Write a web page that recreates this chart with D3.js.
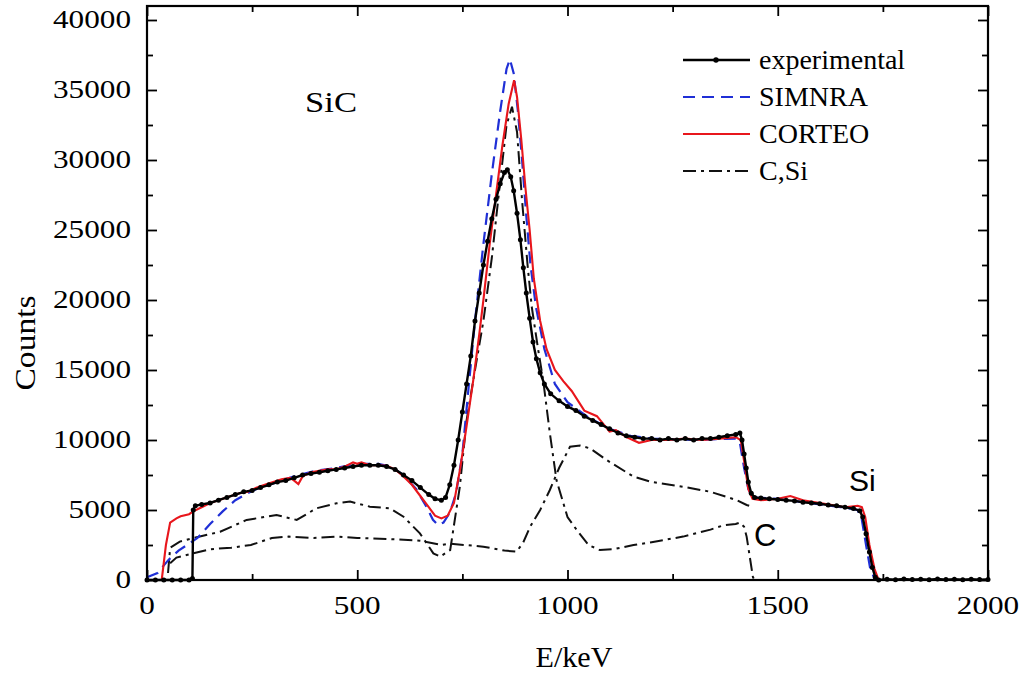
<!DOCTYPE html>
<html><head><meta charset="utf-8">
<script src="https://cdn.jsdelivr.net/npm/d3@7"></script>
<style>body{margin:0;background:#fff}svg{display:block}</style>
</head><body><svg id="c" width="1024" height="680"></svg>
<script>
// ---- data: [E (keV), counts] ----
const experimental = [[0,0],[20,0],[40,0],[60,0],[80,0],[100,0],[108,100],[110,5000],[115,5300],[130,5400],[150,5500],[170,5700],[190,5900],[210,6100],[230,6300],[250,6400],[270,6600],[290,6800],[310,7000],[330,7100],[350,7300],[370,7500],[390,7600],[410,7700],[430,7800],[450,7900],[470,8000],[490,8100],[510,8200],[530,8200],[550,8200],[570,8100],[590,7900],[610,7500],[630,7100],[650,6600],[670,6100],[685,5800],[700,5700],[710,5900],[720,6800],[730,8200],[740,10000],[750,12000],[760,14000],[770,16000],[780,18500],[790,20500],[800,22500],[810,24200],[820,25800],[830,27200],[840,28300],[850,29100],[857,29300],[865,28800],[872,27800],[880,26200],[888,24300],[895,22300],[902,20500],[910,18700],[918,17000],[926,15800],[935,14800],[945,14000],[960,13300],[980,12800],[1000,12400],[1020,12100],[1040,11700],[1060,11400],[1080,11100],[1100,10800],[1120,10500],[1140,10300],[1160,10200],[1180,10100],[1200,10100],[1220,10000],[1240,10100],[1260,10000],[1280,10100],[1300,10000],[1320,10100],[1340,10100],[1360,10200],[1380,10300],[1400,10400],[1410,10500],[1415,10000],[1420,9000],[1425,8000],[1430,7000],[1437,6200],[1445,5900],[1460,5850],[1480,5800],[1500,5750],[1520,5700],[1540,5650],[1560,5550],[1580,5500],[1600,5450],[1620,5350],[1640,5300],[1660,5200],[1680,5100],[1695,4950],[1702,4500],[1710,3300],[1718,2000],[1725,900],[1732,200],[1740,0],[1760,60],[1780,20],[1800,80],[1820,30],[1840,60],[1860,20],[1880,70],[1900,30],[1920,50],[1940,20],[1960,60],[1980,30],[2000,40]];
const simnra = [[0,200],[25,500],[50,1400],[75,2100],[100,2600],[120,3000],[150,4000],[180,4900],[210,5700],[240,6200],[260,6500],[300,6900],[350,7400],[400,7800],[450,8000],[500,8300],[550,8300],[580,8100],[610,7500],[640,6500],[665,5200],[680,4300],[692,3930],[705,4100],[720,4800],[735,6200],[750,9000],[764,13500],[780,18500],[800,24000],[820,29000],[840,33500],[855,36500],[863,37200],[872,36200],[882,33500],[892,30000],[902,26000],[912,22500],[925,19500],[945,16500],[970,14000],[1000,12700],[1050,11600],[1100,10800],[1150,10300],[1200,10100],[1300,10000],[1400,10100],[1410,9800],[1420,8000],[1430,6500],[1440,5900],[1500,5800],[1600,5400],[1650,5200],[1690,5000],[1700,4300],[1710,2500],[1720,800],[1730,100],[1740,0]];
const corteo = [[0,0],[35,0],[45,2500],[55,4100],[70,4400],[80,4550],[100,4700],[110,4900],[130,5200],[150,5500],[170,5700],[200,6000],[220,6200],[240,6300],[260,6600],[280,6800],[300,7000],[320,7200],[340,7300],[350,7100],[360,6850],[370,7400],[390,7700],[410,7800],[430,7900],[450,7900],[470,8100],[490,8400],[500,8300],[510,8400],[530,8200],[550,8200],[570,8150],[590,7900],[610,7400],[630,6800],[650,6000],[670,5200],[685,4600],[700,4400],[715,4600],[730,5500],[745,8000],[760,11000],[776,14300],[790,17500],[800,20000],[815,24000],[830,27500],[845,31000],[860,34000],[873,35700],[880,34500],[890,31500],[900,28000],[910,25000],[920,21500],[935,18500],[950,16500],[970,15000],[990,14200],[1010,13500],[1040,12100],[1070,11700],[1100,10600],[1115,10700],[1140,10200],[1170,9800],[1200,10000],[1240,10000],[1280,10100],[1320,10000],[1360,10100],[1400,10200],[1412,10000],[1420,8500],[1430,6500],[1440,5800],[1460,5700],[1500,5800],[1530,6000],[1560,5700],[1600,5500],[1640,5300],[1660,5200],[1690,5300],[1700,5200],[1708,4500],[1718,2500],[1730,800],[1740,0]];
const carbon = [[50,500],[55,2300],[78,2740],[110,3000],[174,3450],[237,4290],[308,4640],[356,4290],[403,5120],[451,5480],[483,5600],[530,5240],[578,5120],[610,4520],[649,3330],[681,1900],[697,1670],[721,2140],[744,6670],[760,11400],[780,15000],[800,18500],[820,23000],[840,28500],[855,32500],[868,33800],[880,32000],[892,27100],[905,22500],[915,19500],[930,16500],[942,14300],[958,10500],[974,7100],[1000,4500],[1022,3570],[1050,2500],[1077,2140],[1110,2200],[1157,2500],[1200,2700],[1275,3100],[1340,3600],[1370,3900],[1400,4000],[1410,4100],[1420,3800],[1426,3100],[1441,200],[1445,0]];
const silicon = [[55,1200],[70,1600],[110,1900],[150,2200],[200,2300],[247,2500],[297,3000],[337,3100],[397,3000],[450,3100],[500,3000],[600,2900],[650,2800],[700,2500],[720,2600],[800,2380],[850,2100],[879,2020],[895,2700],[911,3800],[935,5000],[958,6430],[980,8000],[1006,9520],[1030,9600],[1054,9400],[1093,8570],[1157,7380],[1200,7000],[1275,6660],[1340,6300],[1402,5710],[1426,5360],[1432,5300]];
const legendLabels = ["experimental","SIMNRA","CORTEO","C,Si"];
const xTicks = [0,500,1000,1500,2000];
const yTicks = [0,5000,10000,15000,20000,25000,30000,35000,40000];

const svg = d3.select("#c");
const x = d3.scaleLinear([0,2000],[147,988]);
const y = d3.scaleLinear([0,41000],[580,6]);
const serif = "'Liberation Serif','Times New Roman',serif";
const sans = "'Liberation Sans',Arial,sans-serif";

const line = d3.line().x(d=>x(d[0])).y(d=>y(d[1]));
const plot = svg.append("g");
const dashdot = "13,5,3,5";
plot.append("path").datum(carbon).attr("d",line).attr("fill","none").attr("stroke","#111").attr("stroke-width",2).attr("stroke-dasharray",dashdot);
plot.append("path").datum(silicon).attr("d",line).attr("fill","none").attr("stroke","#111").attr("stroke-width",2).attr("stroke-dasharray",dashdot);
plot.append("path").datum(simnra).attr("d",line).attr("fill","none").attr("stroke","#1f2fd6").attr("stroke-width",2.2).attr("stroke-dasharray","12,7");
plot.append("path").datum(corteo).attr("d",line).attr("fill","none").attr("stroke","#e8161c").attr("stroke-width",2.1);
plot.append("path").datum(experimental).attr("d",line).attr("fill","none").attr("stroke","#000").attr("stroke-width",2.4);
plot.selectAll("circle.e").data(experimental).join("circle").attr("class","e")
  .attr("cx",d=>x(d[0])).attr("cy",d=>y(d[1])).attr("r",2.5).attr("fill","#000");

// axes (ticks inward on all four sides)
const minorX = d3.range(0,2001,250), minorY = d3.range(0,41000,2500);
function tickLen(v,step){return v%step===0?10:6;}
const ax = svg.append("g");
const gB = ax.append("g").attr("transform","translate(0,580)").call(d3.axisTop(x).tickValues(minorX).tickSize(0).tickFormat(""));
gB.selectAll(".tick").append("line").attr("y2",d=>-tickLen(d,500)).attr("stroke","#000").attr("stroke-width",1.8);
const gT = ax.append("g").attr("transform","translate(0,6)").call(d3.axisBottom(x).tickValues(minorX).tickSize(0).tickFormat(""));
gT.selectAll(".tick").append("line").attr("y2",d=>tickLen(d,500)).attr("stroke","#000").attr("stroke-width",1.8);
const gL = ax.append("g").attr("transform","translate(147,0)").call(d3.axisRight(y).tickValues(minorY).tickSize(0).tickFormat(""));
gL.selectAll(".tick").append("line").attr("x2",d=>tickLen(d,5000)).attr("stroke","#000").attr("stroke-width",1.8);
const gR = ax.append("g").attr("transform","translate(988,0)").call(d3.axisLeft(y).tickValues(minorY).tickSize(0).tickFormat(""));
gR.selectAll(".tick").append("line").attr("x2",d=>-tickLen(d,5000)).attr("stroke","#000").attr("stroke-width",1.8);
ax.selectAll(".domain").remove();
svg.append("rect").attr("x",147).attr("y",6).attr("width",988-147).attr("height",574)
  .attr("fill","none").attr("stroke","#000").attr("stroke-width",2.2);

// tick labels
svg.append("g").selectAll("text").data(yTicks).join("text")
  .attr("x",131).attr("y",d=>y(d)+8).attr("text-anchor","end")
  .attr("font-family",serif).attr("font-size",25)
  .attr("textLength",d=>String(d).length*15.6).attr("lengthAdjust","spacingAndGlyphs")
  .text(d=>d);
svg.append("g").selectAll("text").data(xTicks).join("text")
  .attr("x",d=>x(d)).attr("y",614).attr("text-anchor","middle")
  .attr("font-family",serif).attr("font-size",25)
  .attr("textLength",d=>String(d).length*15.6).attr("lengthAdjust","spacingAndGlyphs")
  .text(d=>d);

// axis titles
svg.append("text").attr("transform","translate(35,343) rotate(-90)").attr("text-anchor","middle")
  .attr("font-family",serif).attr("font-size",30).attr("textLength",95).attr("lengthAdjust","spacingAndGlyphs").text("Counts");
svg.append("text").attr("x",574).attr("y",667).attr("text-anchor","middle")
  .attr("font-family",serif).attr("font-size",29).attr("textLength",77).attr("lengthAdjust","spacingAndGlyphs").text("E/keV");

// annotations
svg.append("text").attr("x",305).attr("y",112).attr("font-family",serif).attr("font-size",29)
  .attr("textLength",52).attr("lengthAdjust","spacingAndGlyphs").text("SiC");
svg.append("text").attr("x",849).attr("y",491).attr("font-family",sans).attr("font-size",30).text("Si");
svg.append("text").attr("x",754).attr("y",546).attr("font-family",sans).attr("font-size",31).text("C");

// legend
const lg = svg.append("g");
const styles = [
  {stroke:"#000",dash:null,w:2.4,dot:true},
  {stroke:"#1f2fd6",dash:"12,7",w:2.2,dot:false},
  {stroke:"#e8161c",dash:null,w:2.1,dot:false},
  {stroke:"#111",dash:dashdot,w:2,dot:false}];
legendLabels.forEach((t,i)=>{
  const yy = 60 + i*37;
  const s = styles[i];
  lg.append("line").attr("x1",683).attr("x2",750).attr("y1",yy).attr("y2",yy)
    .attr("stroke",s.stroke).attr("stroke-width",s.w).attr("stroke-dasharray",s.dash);
  if(s.dot) lg.append("circle").attr("cx",716).attr("cy",yy).attr("r",2.7).attr("fill","#000");
  lg.append("text").attr("x",759).attr("y",yy+9).attr("font-family",serif).attr("font-size",28).text(t);
});
</script></body></html>
